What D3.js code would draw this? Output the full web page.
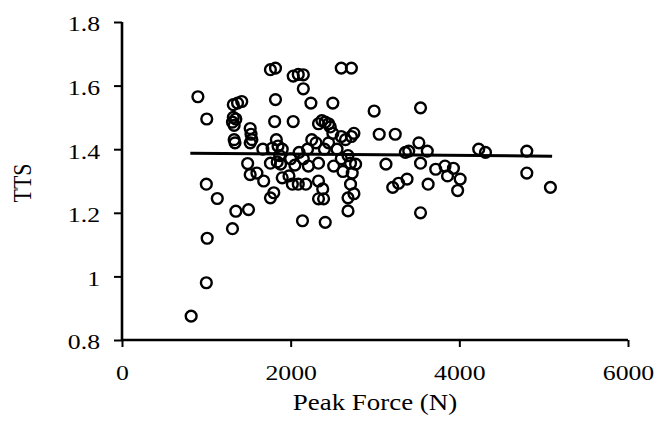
<!DOCTYPE html>
<html>
<head>
<meta charset="utf-8">
<script src="https://cdn.jsdelivr.net/npm/d3@7"></script>
<style>
  body { margin: 0; background: #fff; }
  text { font-family: "Liberation Serif", "Times New Roman", serif; fill: #000; }
</style>
</head>
<body>
<svg id="svg" width="659" height="424"></svg>
<script>
const width = 659;
const height = 424;
const stretch = 1.17; // the picture's text is a bit wider than plain Times

// peak force (N) and TTS
const force = [
  820, 1000, 1010, 1000, 1130, 1310, 1350, 1500, 900, 1005,
  1320, 1370, 1420, 1310, 1330, 1350, 1320, 1330, 1520, 1530, 1540,
  1490, 1520, 1600, 1680, 1760, 1800, 1340, 1520, 1670, 1780,
  1760, 1840, 1880, 1900, 1980, 1760, 1820,
  1820, 1810, 1830, 1850, 1870, 1900,
  2030, 2090, 2150, 2150, 2240, 2030, 2020, 2090, 2180, 2140, 2410,
  2000, 2050, 2100, 2150, 2200, 2210, 2250, 2300,
  2330, 2370, 2410, 2450, 2470, 2500,
  2330, 2330, 2380, 2330, 2390,
  2400, 2450, 2510, 2550, 2600, 2620, 2650,
  2500, 2600, 2720,
  2710, 2770, 2730, 2710, 2750, 2680, 2680,
  2720, 2750, 2680, 2600,
  2990, 3050, 3240, 3130, 3210, 3280, 3380,
  3360, 3400, 3520, 3540, 3540, 3540,
  3620, 3630, 3720, 3830, 3930, 3860, 4010, 3980,
  4230, 4310, 4800, 4800, 5080
];
const tts = [
  0.875, 0.98, 1.12, 1.29, 1.245, 1.15, 1.205, 1.21, 1.565, 1.495,
  1.54, 1.545, 1.55, 1.485, 1.475, 1.495, 1.50, 1.43, 1.465, 1.447, 1.43,
  1.355, 1.32, 1.325, 1.30, 1.247, 1.263, 1.42, 1.42, 1.40, 1.403,
  1.356, 1.36, 1.353, 1.31, 1.316, 1.65, 1.655,
  1.556, 1.487, 1.43, 1.41, 1.38, 1.40,
  1.63, 1.635, 1.634, 1.59, 1.545, 1.487, 1.29, 1.29, 1.29, 1.175, 1.17,
  1.37, 1.35, 1.39, 1.37, 1.40, 1.347, 1.43, 1.42,
  1.48, 1.49, 1.485, 1.48, 1.47, 1.45,
  1.356, 1.30, 1.275, 1.244, 1.244,
  1.40, 1.42, 1.347, 1.40, 1.44, 1.33, 1.43,
  1.545, 1.655, 1.655,
  1.356, 1.353, 1.325, 1.29, 1.26, 1.247, 1.206,
  1.44, 1.45, 1.38, 1.37,
  1.52, 1.447, 1.447, 1.353, 1.28, 1.293, 1.306,
  1.39, 1.394, 1.42, 1.356, 1.53, 1.20,
  1.394, 1.29, 1.337, 1.347, 1.34, 1.316, 1.306, 1.27,
  1.40, 1.39, 1.394, 1.325, 1.28
];

// trend line ends
const trendX = [810, 5100];
const trendY = [1.387, 1.378];

const xTicks = [0, 2000, 4000, 6000];
const yTicks = [0.8, 1, 1.2, 1.4, 1.6, 1.8];

const svg = d3.select("#svg");

const x = d3.scaleLinear().domain([0, 6000]).range([122, 628]);
const y = d3.scaleLinear().domain([0.8, 1.8]).range([340, 22]);

// x axis
const xAxis = svg.append("g")
  .attr("transform", "translate(0,340)")
  .call(d3.axisBottom(x).tickValues(xTicks).tickSize(7).tickPadding(17)
    .tickFormat(d3.format("d")));
xAxis.select(".domain").attr("stroke-width", 2.6).attr("d", "M122,0H628");
xAxis.selectAll(".tick line").attr("stroke-width", 2);
xAxis.selectAll("text")
  .attr("font-size", 22)
  .attr("fill", "#000")
  .attr("transform", `scale(${stretch},1)`);

// y axis
const yAxis = svg.append("g")
  .attr("transform", "translate(122,0)")
  .call(d3.axisLeft(y).tickValues(yTicks).tickSize(8)
    .tickFormat((d) => (d === 1 ? "1" : d3.format(".1f")(d))));
yAxis.select(".domain").attr("stroke-width", 2.6).attr("d", "M0,22V341");
yAxis.selectAll(".tick line").attr("stroke-width", 2);
yAxis.selectAll("text")
  .attr("font-size", 22)
  .attr("fill", "#000")
  .attr("x", -22 / stretch)
  .attr("dy", "0.4em")
  .attr("transform", `scale(${stretch},1)`);

// points
svg.append("g")
  .selectAll("circle")
  .data(force.map((f, i) => [f, tts[i]]))
  .enter()
  .append("circle")
  .attr("cx", (d) => x(d[0]))
  .attr("cy", (d) => y(d[1]))
  .attr("r", 5.4)
  .attr("fill", "none")
  .attr("stroke", "#000")
  .attr("stroke-width", 2.4);

// trend line
svg.append("line")
  .attr("x1", x(trendX[0]))
  .attr("y1", y(trendY[0]))
  .attr("x2", x(trendX[1]))
  .attr("y2", y(trendY[1]))
  .attr("stroke", "#000")
  .attr("stroke-width", 3);

// axis titles
svg.append("text")
  .attr("transform", `translate(${x(3000)},410) scale(${stretch},1)`)
  .attr("text-anchor", "middle")
  .attr("font-size", 23)
  .attr("fill", "#000")
  .text("Peak Force (N)");

svg.append("text")
  .attr("transform", `translate(31,${y(1.3) + 2}) scale(${stretch},1) rotate(-90)`)
  .attr("text-anchor", "middle")
  .attr("font-size", 22)
  .attr("fill", "#000")
  .text("TTS");
</script>
</body>
</html>
